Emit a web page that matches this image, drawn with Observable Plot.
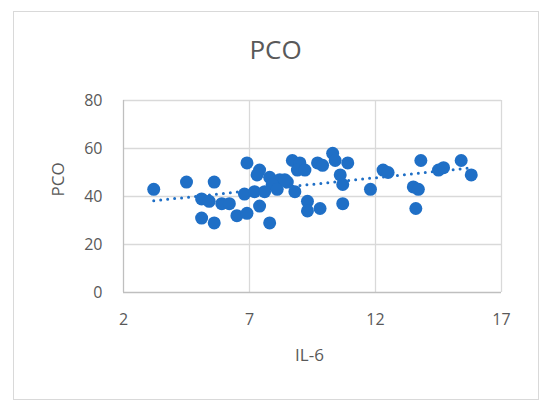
<!DOCTYPE html>
<html>
<head>
<meta charset="utf-8">
<script src="https://cdn.jsdelivr.net/npm/d3@7"></script>
<script src="https://cdn.jsdelivr.net/npm/@observablehq/plot@0.6"></script>
<style>
  html, body { margin: 0; padding: 0; background: #fff; }
  #wrap { position: relative; width: 550px; height: 410px; overflow: hidden; }
  #border { position: absolute; left: 13px; top: 11px; width: 524px; height: 387px; border: 1px solid #d9d9d9; box-sizing: content-box; pointer-events: none; }
  #chart { position: absolute; left: 0; top: 0; }
</style>
</head>
<body>
<div id="wrap">
  <div id="border"></div>
  <div id="chart"></div>
</div>
<script>
const title = "PCO";
const xLabel = "IL-6";
const yLabel = "PCO";
const xTicks = [2, 7, 12, 17];
const yTicks = [0, 20, 40, 60, 80];

const il6 = [3.2, 4.5, 5.6, 5.1, 5.4, 5.9, 6.2, 5.1, 5.6, 6.5, 6.9, 6.9, 7.4, 7.3, 7.8, 8.2, 8.5, 7.9, 8.1, 8.8,
             6.8, 7.2, 7.6, 7.4, 7.8, 8.7, 9.0, 8.9, 9.2, 9.7, 9.9, 10.3, 10.4, 10.9, 10.6, 10.7, 9.3, 9.3, 9.8, 10.7,
             11.8, 12.3, 12.5, 13.8, 13.5, 13.7, 13.6, 14.5, 14.7, 15.4, 15.8, 8.4];
const pco = [43, 46, 46, 39, 38, 37, 37, 31, 29, 32, 33, 54, 51, 49, 48, 47, 46, 45, 43, 42,
             41, 42, 42, 36, 29, 55, 54, 51, 51, 54, 53, 58, 55, 54, 49, 45, 38, 34, 35, 37,
             43, 51, 50, 55, 44, 43, 35, 51, 52, 55, 49, 47];

const data = il6.map((x, i) => ({x, y: pco[i]}));
const blue = "#1f6fc6";
const font = "'Open Sans', 'Liberation Sans', sans-serif";

const plot = Plot.plot({
  width: 550,
  height: 410,
  marginLeft: 123,
  marginRight: 49,
  marginTop: 100,
  marginBottom: 118,
  style: { fontFamily: font, background: "transparent", color: "#595959" },
  x: { domain: [2, 17] },
  y: { domain: [0, 80] },
  marks: [
    Plot.gridX(xTicks.slice(1), { stroke: "#d9d9d9", strokeOpacity: 1, strokeWidth: 1.3 }),
    Plot.gridY(yTicks.slice(1), { stroke: "#d9d9d9", strokeOpacity: 1, strokeWidth: 1.3 }),
    Plot.ruleX([2], { stroke: "#bfbfbf", strokeWidth: 1.3 }),
    Plot.ruleY([0], { stroke: "#bfbfbf", strokeWidth: 1.3 }),
    Plot.axisX(xTicks, { ticks: xTicks, tickSize: 0, tickPadding: 21, fontSize: 16, fill: "#595959", label: null }),
    Plot.axisY(yTicks, { ticks: yTicks, tickSize: 0, tickPadding: 21, fontSize: 16, fill: "#595959", label: null }),
    Plot.linearRegressionY(data, { x: "x", y: "y", ci: 0, stroke: blue, strokeWidth: 3, strokeDasharray: "0 7", strokeLinecap: "round" }),
    Plot.dot(data, { x: "x", y: "y", r: 6.5, fill: blue, stroke: "none" }),
    Plot.text([title], { frameAnchor: "top", dx: -37, dy: -50, fontSize: 26, fill: "#595959", lineAnchor: "middle" }),
    Plot.text([xLabel], { frameAnchor: "bottom", dx: -3, dy: 63, fontSize: 17, fill: "#595959", lineAnchor: "middle" }),
    Plot.text([yLabel], { frameAnchor: "left", dx: -65, rotate: -90, fontSize: 17, fill: "#595959", lineAnchor: "middle" })
  ]
});
document.getElementById("chart").appendChild(plot);
</script>
</body>
</html>
